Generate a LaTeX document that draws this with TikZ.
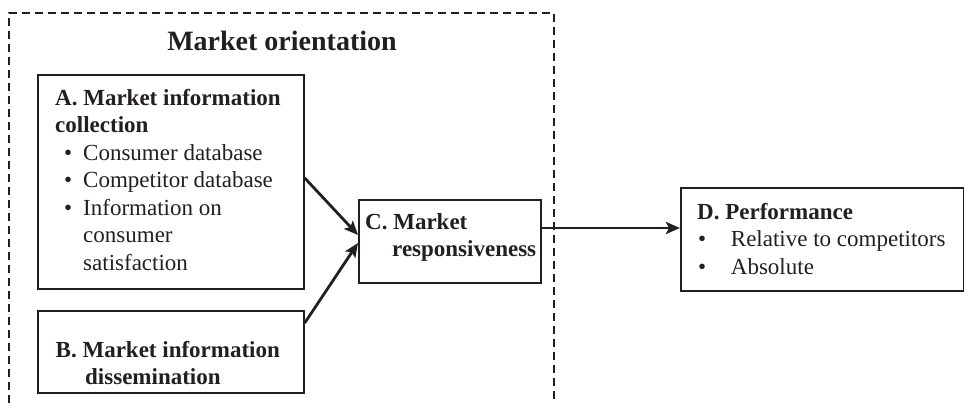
\documentclass[tikz,border=0pt]{standalone}
\usepackage{fontspec}
\setmainfont{Liberation Serif}
\usetikzlibrary{arrows.meta,positioning}
\definecolor{ink}{HTML}{231F20}
\newcommand{\bul}[1][9pt]{\makebox[28pt][l]{\hspace*{#1}\textbullet}}% #1 = bullet offset
\newcommand{\rows}[1]{\begin{tabular}[t]{@{}l@{}}#1\end{tabular}}

\begin{document}
\begin{tikzpicture}[x=1pt,y=-1pt,font=\fontsize{23}{27.5}\selectfont,
  panel/.style={draw=ink,line width=1.7pt,anchor=north west,inner sep=0pt},
  txt/.style={anchor=base west,inner sep=0pt,text=ink},
  arr/.style={draw=ink,line width=2.8pt,-{Stealth[length=14pt,width=12pt,inset=3pt]}}]
  \useasboundingbox (0,0) rectangle (964,403);
  % dashed frame round the market orientation part, open at the bottom
  \draw[ink,line width=2.4pt,dash pattern=on 8pt off 5pt]
    (9,403) -- (9,13) -- (554,13) -- (554,403);
  \node[anchor=base,inner sep=0pt,text=ink,font=\fontsize{28}{33}\selectfont\bfseries]
    (mo) at (282,51) {Market orientation};
  % frames
  \node[panel,minimum width=266pt,minimum height=214pt] (boxA) at (37,74) {};
  \node[panel,minimum width=266pt,minimum height=82pt] (boxB) at (37,310) {};
  \node[panel,minimum width=182pt,minimum height=83pt] (boxC) at (358,199) {};
  \node[panel,minimum width=283pt,minimum height=103pt] (boxD) at (680,187) {};
  % texts
  \node[txt] (txtA) at (55,105.5) {\rows{\textbf{A. Market information}\\
    \textbf{collection}\\
    \bul Consumer database\\
    \bul Competitor database\\
    \bul Information on\\
    \hspace*{28pt}consumer\\
    \hspace*{28pt}satisfaction}};
  \node[txt] (txtB) at (55.5,357.5) {\rows{\textbf{B. Market information}\\
    \hspace*{29.5pt}\textbf{dissemination}}};
  \node[txt] (txtC) at (365,229.5) {\rows{\textbf{C. Market}\\
    \hspace*{27pt}\textbf{responsiveness}}};
  \node[txt] (txtD) at (697,219.5) {\rows{\textbf{D. Performance}\\
    \bul[1pt] Relative to competitors\\
    \bul[1pt] Absolute}};
  % arrows
  \draw[arr] ([yshift=-104pt]boxA.north east) -- ([yshift=-36pt]boxC.north west);
  \draw[arr] ([yshift=-13pt]boxB.north east) -- ([yshift=-44pt]boxC.north west);
  \draw[arr] ([yshift=-29pt]boxC.north east) -- ([yshift=-41pt]boxD.north west);
\end{tikzpicture}
\end{document}
